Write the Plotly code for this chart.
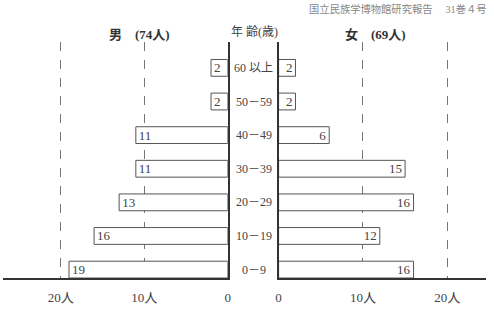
import plotly.graph_objects as go

ages = ["0－9", "10－19", "20－29", "30－39", "40－49", "50－59", "60 以上"]
male = [19, 16, 13, 11, 11, 2, 2]
female = [16, 12, 16, 15, 6, 2, 2]
tick_vals = [0, 10, 20]
tick_text = ["0", "10人", "20人"]

FONT = "Liberation Serif, DejaVu Serif, Noto Sans CJK JP, serif"
TXT = "#444"
LINE = "#555"

fig = go.Figure()
for xs, xa, ya in [(male, "x", "y"), (female, "x2", "y2")]:
    fig.add_trace(go.Bar(
        y=ages, x=xs, orientation="h", xaxis=xa, yaxis=ya,
        marker=dict(color="white", line=dict(color=LINE, width=1)),
        width=0.5, text=[str(v) for v in xs], textposition="inside",
        insidetextanchor="end", textangle=0, constraintext="none",
        textfont=dict(family=FONT, size=13, color=TXT), showlegend=False,
    ))

ydom = [40 / 318, 276 / 318]
yrange = [-0.25, 6.77]
xcommon = dict(
    tickvals=tick_vals, ticktext=tick_text, showgrid=True, griddash="dash",
    gridcolor="#777", gridwidth=1, zeroline=False, showline=True,
    linecolor="#333", linewidth=2, ticks="outside", ticklen=6,
    tickcolor="rgba(0,0,0,0)", tickfont=dict(family=FONT, size=13, color=TXT),
    fixedrange=True,
)
fig.update_layout(
    width=494, height=318, margin=dict(l=0, r=0, t=0, b=0),
    paper_bgcolor="white", plot_bgcolor="white",
    barmode="overlay",
    xaxis=dict(domain=[0, 227.5 / 494], range=[26.9, 0], anchor="y", **xcommon),
    xaxis2=dict(domain=[279 / 494, 489 / 494], range=[0, 24.6], anchor="y2", **xcommon),
    yaxis=dict(domain=ydom, range=yrange, anchor="x", side="right",
               categoryorder="array", categoryarray=ages,
               showticklabels=False, showline=True, linecolor="#333",
               linewidth=2, showgrid=False, zeroline=False, ticks=""),
    yaxis2=dict(domain=ydom, range=yrange, anchor="x2", side="left",
                categoryorder="array", categoryarray=ages,
                showticklabels=False, showline=True, linecolor="#333",
                linewidth=2, showgrid=False, zeroline=False, ticks=""),
)

for a in ages:
    fig.add_annotation(x=254 / 494, xref="paper", y=a, yref="y", text=a,
                       showarrow=False, xanchor="center", yanchor="middle",
                       font=dict(family=FONT, size=12, color=TXT))

def head(x, y, text, size, color, xanchor="center"):
    fig.add_annotation(x=x / 494, y=1 - y / 318, xref="paper", yref="paper",
                       text=text, showarrow=False, xanchor=xanchor,
                       yanchor="middle", font=dict(family=FONT, size=size, color=color))

head(138, 35, "<b>男　(74人)</b>", 13, "#333")
head(377, 35, "<b>女　(69人)</b>", 13, "#333")
head(255, 32, "年 齢(歳)", 12, TXT)
head(492, 9, "国立民族学博物館研究報告　 31巻４号", 10.3, "#888", xanchor="right")

fig.write_html("out.html")
